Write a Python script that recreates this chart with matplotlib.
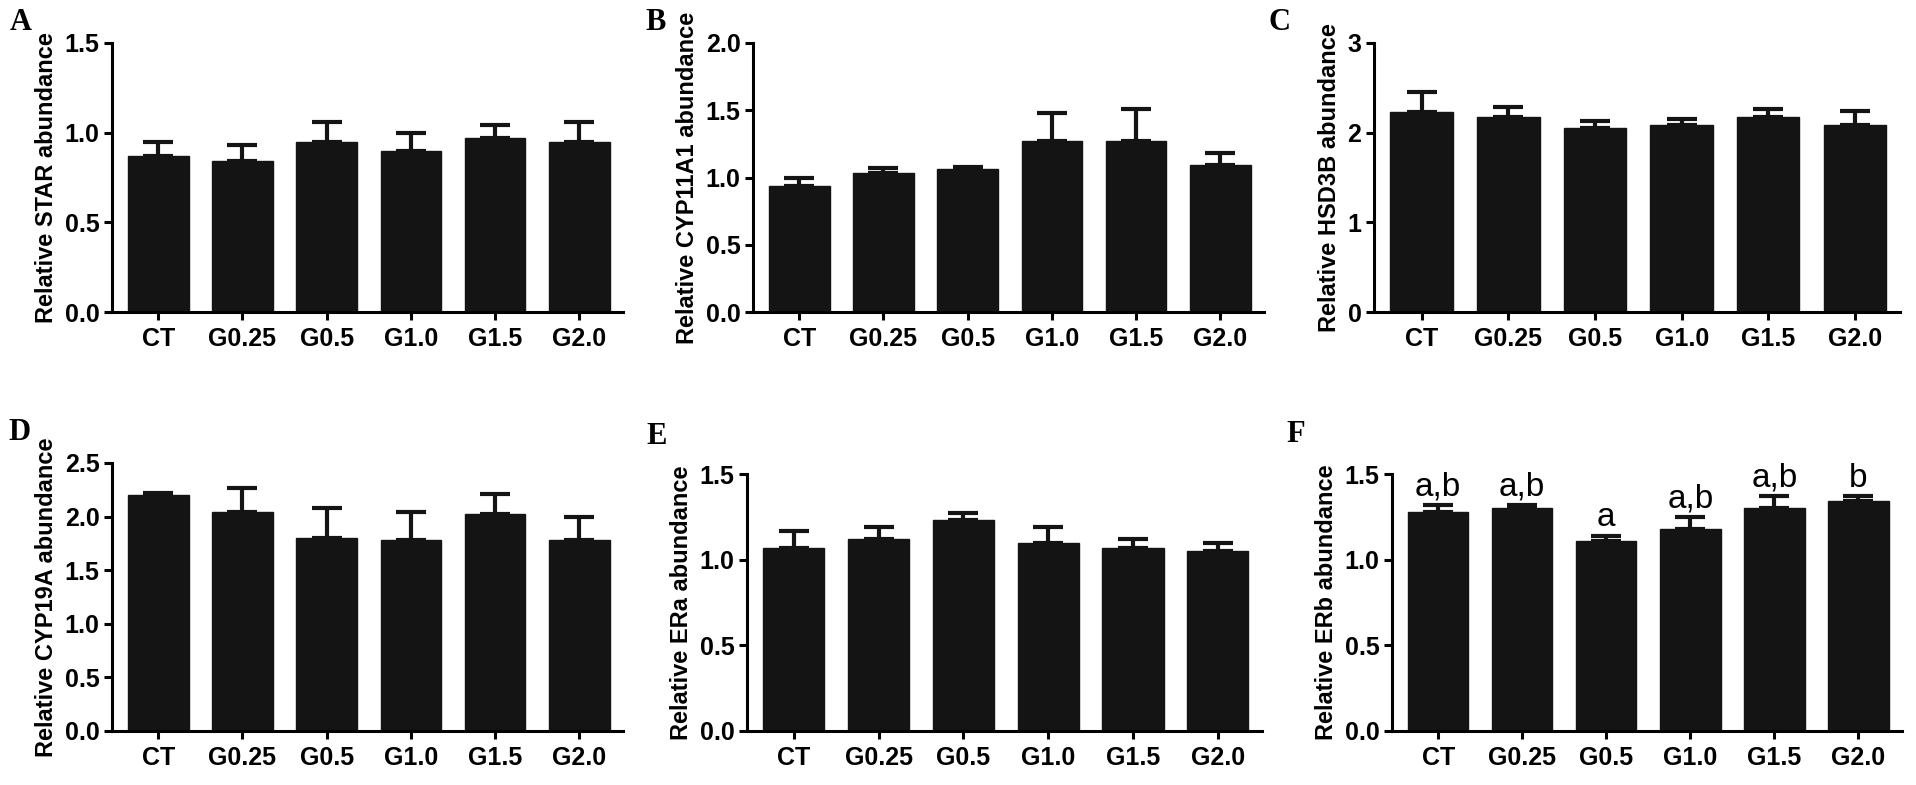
import matplotlib
matplotlib.use("Agg")
import matplotlib.pyplot as plt

groups = ["CT", "G0.25", "G0.5", "G1.0", "G1.5", "G2.0"]

star_mean = [0.87, 0.84, 0.95, 0.90, 0.97, 0.95]
star_top = [0.95, 0.93, 1.06, 1.00, 1.04, 1.06]

cyp11a1_mean = [0.94, 1.03, 1.06, 1.27, 1.27, 1.09]
cyp11a1_top = [1.00, 1.07, 1.08, 1.48, 1.51, 1.18]

hsd3b_mean = [2.23, 2.18, 2.05, 2.09, 2.18, 2.09]
hsd3b_top = [2.45, 2.29, 2.13, 2.15, 2.26, 2.24]

cyp19a_mean = [2.20, 2.04, 1.80, 1.78, 2.02, 1.78]
cyp19a_top = [2.22, 2.27, 2.08, 2.04, 2.21, 2.00]

era_mean = [1.07, 1.12, 1.23, 1.10, 1.07, 1.05]
era_top = [1.17, 1.19, 1.27, 1.19, 1.12, 1.10]

erb_mean = [1.28, 1.30, 1.11, 1.18, 1.30, 1.34]
erb_top = [1.32, 1.32, 1.14, 1.25, 1.37, 1.37]
erb_letters = ["a,b", "a,b", "a", "a,b", "a,b", "b"]

panels = [
    ("A", "Relative STAR abundance", star_mean, star_top, 1.5, [0.0, 0.5, 1.0, 1.5], "%.1f", None),
    ("B", "Relative CYP11A1 abundance", cyp11a1_mean, cyp11a1_top, 2.0, [0.0, 0.5, 1.0, 1.5, 2.0], "%.1f", None),
    ("C", "Relative HSD3B abundance", hsd3b_mean, hsd3b_top, 3, [0, 1, 2, 3], "%d", None),
    ("D", "Relative CYP19A abundance", cyp19a_mean, cyp19a_top, 2.5, [0.0, 0.5, 1.0, 1.5, 2.0, 2.5], "%.1f", None),
    ("E", "Relative ERa abundance", era_mean, era_top, 1.5, [0.0, 0.5, 1.0, 1.5], "%.1f", None),
    ("F", "Relative ERb abundance", erb_mean, erb_top, 1.5, [0.0, 0.5, 1.0, 1.5], "%.1f", erb_letters),
]

# axes rectangles in pixels: left, right, top, bottom (image 1916x785)
W, H = 1916, 785
boxes = [
    (112, 623, 43, 312),
    (753, 1264, 43, 312),
    (1374, 1900, 43, 312),
    (112, 623, 463, 731),
    (747, 1262, 474, 731),
    (1392, 1902, 474, 731),
]
letter_pos = [(10, 22), (645, 22), (1268, 22), (8, 432), (646, 436), (1286, 434)]

plt.rcParams["font.family"] = ["Liberation Sans", "DejaVu Sans"]
fig = plt.figure(figsize=(19.16, 7.85), dpi=100)

for (letter, ylab, mean, top, ymax, yt, fmt, marks), (l, r, t, b), (lx, ly) in zip(panels, boxes, letter_pos):
    ax = fig.add_axes([l / W, 1 - b / H, (r - l) / W, (b - t) / H])
    x = list(range(len(groups)))
    err = [tp - m for tp, m in zip(top, mean)]
    ax.bar(x, mean, width=0.72, color="#141414", edgecolor="#141414", zorder=2)
    ax.errorbar(x, mean, yerr=[[0] * len(err), err], fmt="none", ecolor="#141414",
                elinewidth=3, capsize=11, capthick=3, zorder=1)
    ax.set_xlim(-0.55, 5.52)
    ax.set_ylim(0, ymax)
    ax.set_yticks(yt)
    ax.set_yticklabels([fmt % v for v in yt])
    ax.set_xticks(x)
    ax.set_xticklabels(groups)
    for s in ["top", "right"]:
        ax.spines[s].set_visible(False)
    for s in ["left", "bottom"]:
        ax.spines[s].set_linewidth(2.2)
    ax.tick_params(axis="both", width=2.2, length=6, labelsize=18, pad=3)
    ax.tick_params(axis="x", pad=5)
    for lab in ax.get_xticklabels() + ax.get_yticklabels():
        lab.set_fontweight("bold")
    ax.set_ylabel(ylab, fontsize=17, fontweight="bold", labelpad=5)
    if marks:
        for xi, tp, m in zip(x, top, marks):
            ax.text(xi, tp + 0.015, m, ha="center", va="bottom", fontsize=24)
    fig.text(lx / W, 1 - ly / H, letter, fontsize=22, fontweight="bold",
             family=["Liberation Serif", "DejaVu Serif"], ha="left", va="center")

fig.savefig("out.png", dpi=100)
